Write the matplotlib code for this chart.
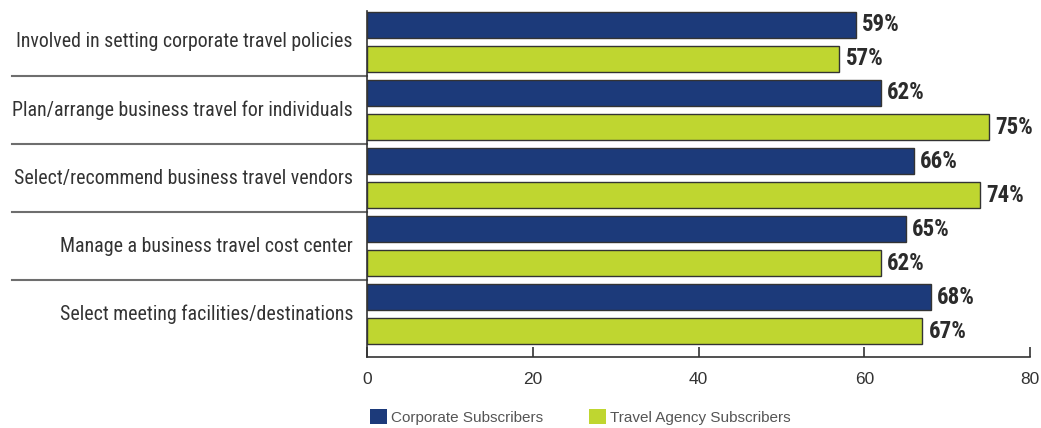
import matplotlib
matplotlib.use("Agg")
import matplotlib.pyplot as plt
import matplotlib.transforms as mtransforms
import numpy as np

categories = [
    "Involved in setting corporate travel policies",
    "Plan/arrange business travel for individuals",
    "Select/recommend business travel vendors",
    "Manage a business travel cost center",
    "Select meeting facilities/destinations",
]
corporate = [59, 62, 66, 65, 68]
agency = [57, 75, 74, 62, 67]
series_names = ["Corporate Subscribers", "Travel Agency Subscribers"]
x_ticks = [0, 20, 40, 60, 80]

BLUE = "#1c3a7a"
GREEN = "#bfd630"
EDGE = "#333333"
NARROW = ["Roboto Condensed", "DejaVu Sans"]

W, H = 1041, 428
fig = plt.figure(figsize=(W / 100, H / 100), dpi=100)
ax_left, ax_right, ax_top, ax_bottom = 367, 1030, 11, 357
ax = fig.add_axes([ax_left / W, 1 - ax_bottom / H,
                   (ax_right - ax_left) / W, (ax_bottom - ax_top) / H])

n = len(categories)
slot = np.arange(2 * n)
blue_pos = slot[0::2]
green_pos = slot[1::2]
bar_h = 25 / 33

b1 = ax.barh(blue_pos, corporate, height=bar_h, color=BLUE,
             edgecolor=EDGE, linewidth=1.0, label=series_names[0])
b2 = ax.barh(green_pos, agency, height=bar_h, color=GREEN,
             edgecolor=EDGE, linewidth=1.0, label=series_names[1])

value_font = dict(family=NARROW, fontsize=16.5, fontweight="bold", color="#2b2b2b")
for pos, val in zip(blue_pos, corporate):
    ax.annotate(f"{val}%", (val, pos), xytext=(4.5, 0), textcoords="offset points",
                va="center", ha="left", **value_font)
for pos, val in zip(green_pos, agency):
    ax.annotate(f"{val}%", (val, pos), xytext=(4.5, 0), textcoords="offset points",
                va="center", ha="left", **value_font)

ax.set_xlim(0, 80)
ax.set_ylim(2 * n - 1 + (357 - 336 - 12.5) / 33 + 0.5, -13.5 / 33)
ax.set_xticks(x_ticks)
ax.set_xticklabels([str(t) for t in x_ticks], fontsize=12.5, color="#333333",
                   family=["Liberation Sans", "DejaVu Sans"])
ax.tick_params(axis="x", direction="in", length=7.5, width=1.2, color="#333333",
               pad=11)
ax.set_yticks([])

for side in ["top", "right"]:
    ax.spines[side].set_visible(False)
ax.spines["left"].set_color("#333333")
ax.spines["left"].set_linewidth(1.2)
ax.spines["bottom"].set_color("#333333")
ax.spines["bottom"].set_linewidth(1.2)

# Category labels and the rules separating the groups on the left
trans = mtransforms.blended_transform_factory(ax.transAxes, ax.transData)
label_x = (353 - ax_left) / (ax_right - ax_left)
sep_x0 = (12 - ax_left) / (ax_right - ax_left)
for i, cat in enumerate(categories):
    ax.text(label_x, 2 * i + 0.5, cat, transform=trans, ha="right", va="center",
            fontsize=14.3, color="#333333", family=NARROW)
    if i < n - 1:
        ax.plot([sep_x0, 0], [2 * i + 1.5, 2 * i + 1.5], transform=trans,
                color="#6e6e6e", linewidth=1.5, clip_on=False)

fig.legend(handles=[b1, b2], labels=series_names, ncol=2, frameon=False,
           loc="lower left", bbox_to_anchor=(356 / W, -0.025),
           handlelength=1.1, handleheight=1.1, handletextpad=0.3,
           columnspacing=3.0, labelcolor="#555555",
           prop=dict(family=["Liberation Sans", "DejaVu Sans"], size=11))
for h in fig.legends[0].legend_handles:
    h.set_edgecolor("none")

fig.savefig("out.png", dpi=100)
